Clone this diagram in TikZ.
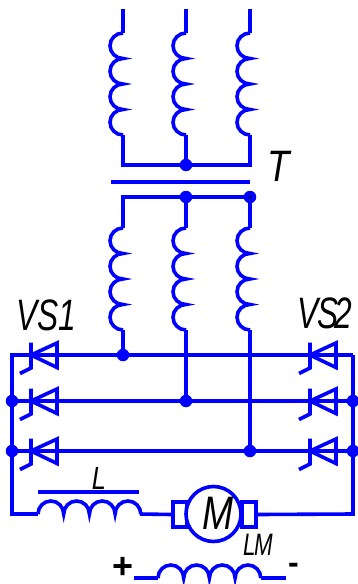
\documentclass[tikz,border=0pt]{standalone}
\usepackage{fontspec}
\setmainfont{Liberation Sans}
\definecolor{wire}{RGB}{0,0,255}
\definecolor{navy}{RGB}{0,0,90}
\tikzset{
  x=1pt,y=-1pt,
  wirep/.style={draw=wire,line width=3.6pt,line cap=butt,line join=miter},
  dotn/.style={circle,fill=wire,inner sep=0pt,minimum size=12.5pt,
    path picture={\draw[navy,line width=0.7pt] (path picture bounding box.center) circle[radius=1.7pt];}},
  lab/.style={font=\itshape\fontsize{44}{44}\selectfont,inner sep=0pt,text=black,xscale=.72},
  thyr/.pic={
    \draw[wirep] (0,-12.5) -- (0,13) -- (-11,18.5);
    \draw[wirep] (0,0) -- (26,-12) -- (26,12.5) -- cycle;
  },
  vcoil/.pic={
    \draw[wirep] (0,0)
      arc[start angle=270,end angle=90,x radius=13,y radius=12.75]
      arc[start angle=270,end angle=90,x radius=13,y radius=12.75]
      arc[start angle=270,end angle=90,x radius=13,y radius=12.75]
      arc[start angle=270,end angle=90,x radius=13,y radius=12.75];
  },
  hcoil/.pic={
    \draw[wirep] (0,0)
      arc[start angle=180,end angle=360,x radius=12.85,y radius=13]
      arc[start angle=180,end angle=360,x radius=12.85,y radius=13]
      arc[start angle=180,end angle=360,x radius=12.85,y radius=13]
      arc[start angle=180,end angle=360,x radius=12.85,y radius=13];
  }
}
\begin{document}
\begin{tikzpicture}
\useasboundingbox (0,0) rectangle (358,584);
% upper windings
\foreach \n/\x in {a/123,b/186,c/250}{
  \coordinate (top\n) at (\x,9);
  \coordinate (ut\n) at (\x,33);
  \coordinate (ub\n) at (\x,135);
  \coordinate (lt\n) at (\x,228);
  \coordinate (lb\n) at (\x,330);
  \draw[wirep] (top\n) -- (ut\n);
  \pic at (ut\n) {vcoil};
  \pic at (lt\n) {vcoil};
}
\coordinate (s1) at (123,165);
\coordinate (s3) at (250,165);
\coordinate (p1) at (123,197);
\coordinate (core1) at (111,182);
\coordinate (core2) at (250,182);
\node[dotn] (starU) at (186,165) {};
\node[dotn] (starL) at (186,197) {};
\node[dotn] (starR) at (250,197) {};
% rows
\node[dotn] (r1a) at (123,355) {};
\node[dotn] (r2a) at (186,401) {};
\node[dotn] (r3a) at (250,451) {};
\node[dotn] (l2) at (12,401) {};
\node[dotn] (l3) at (12,451) {};
\node[dotn] (r2) at (353,401) {};
\node[dotn] (r3) at (353,451) {};
\coordinate (l1) at (12,355);
\coordinate (r1) at (353,355);
\coordinate (lb) at (12,514);
\coordinate (rb) at (353,514);
\coordinate (Lin) at (38,514);
\coordinate (Lout) at (140,514);
\draw[wirep] (uba) -- (s1) -- (s3) -- (ubc);
\draw[wirep] (ubb) -- (starU);
\draw[wirep] (core1) -- (core2);
\draw[wirep] (lta) -- (p1) -- (starR) -- (ltc);
\draw[wirep] (starL) -- (ltb);
\draw[wirep] (lba) -- (r1a);
\draw[wirep] (lbb) -- (r2a);
\draw[wirep] (lbc) -- (r3a);
\draw[wirep] (r1) -- (l1) -- (lb) -- (Lin);
\draw[wirep] (l2) -- (r2);
\draw[wirep] (l3) -- (r3);
% thyristors
\foreach \y in {355,401,451}{
  \pic at (31,\y) {thyr};
  \pic at (310,\y) {thyr};
}
% choke L
\pic at (Lin) {hcoil};
\coordinate (Lb1) at (38,492);
\coordinate (Lb2) at (139,492);
\draw[wirep] (Lb1) -- (Lb2);
% motor
\node[draw=wire,line width=3.6pt,minimum width=14pt,minimum height=25pt,inner sep=0pt] (brL) at (180,514.5) {};
\node[draw=wire,line width=3.6pt,minimum width=14pt,minimum height=25pt,inner sep=0pt] (brR) at (249,514.5) {};
\node[circle,draw=wire,fill=white,line width=3.6pt,minimum size=55pt,inner sep=0pt] (mot) at (213.5,514) {};
\draw[wirep] (Lout) -- (brL.west);
\draw[wirep] (brR.east) -- (rb) -- (r1);
% field winding
\coordinate (f0) at (134,578);
\coordinate (f1) at (158,578);
\coordinate (f2) at (261,578);
\coordinate (f3) at (286,578);
\draw[wirep] (f0) -- (f1);
\pic at (f1) {hcoil};
\draw[wirep] (f2) -- (f3);
% labels
\node[lab,xscale=1.15] (tT) at (279,166) {T};
\node[lab] (tVS1) at (46,315) {VS1};
\node[lab] (tVS2) at (324.5,313) {V\kern-1.5pt S\kern-6pt 2};
\node[lab,font=\itshape\fontsize{47}{47}\selectfont,xscale=1.1] (tM) at (218.5,513.5) {M};
\node[lab,font=\itshape\fontsize{32}{32}\selectfont,xscale=1.1] (tL) at (99,478) {L};
\node[lab,font=\itshape\fontsize{31}{31}\selectfont] (tLM) at (258,545) {L\kern-2pt M};
\node[inner sep=0pt,font=\bfseries\fontsize{36}{36}\selectfont] (tp) at (123.5,568) {+};
\node[inner sep=0pt,font=\bfseries\fontsize{32}{32}\selectfont] (tm) at (293.5,568) {-};
\end{tikzpicture}
\end{document}
